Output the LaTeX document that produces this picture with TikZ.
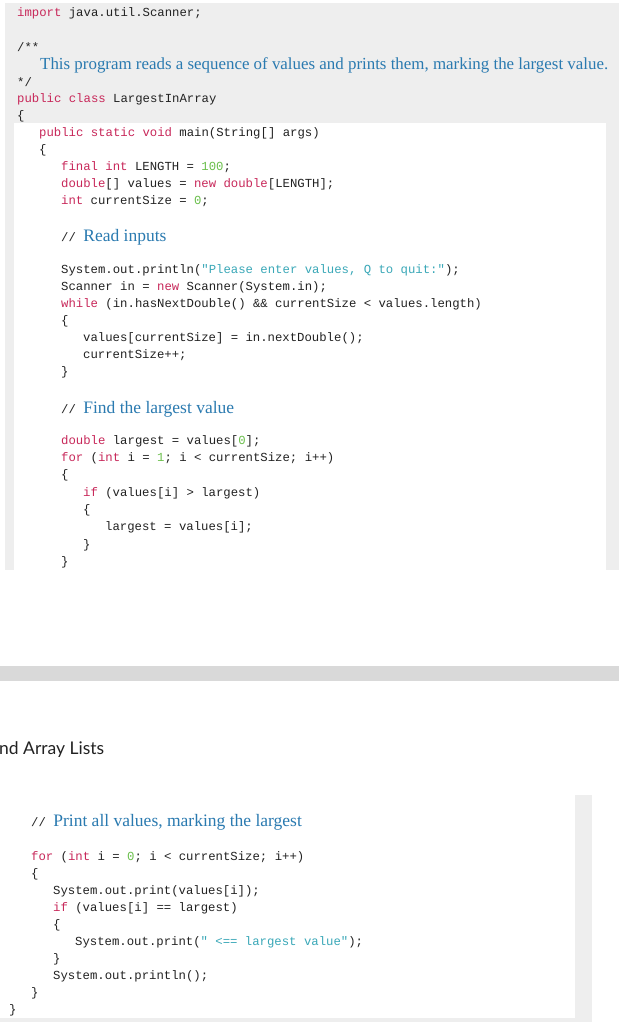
\documentclass[tikz,border=0pt]{standalone}
\usepackage{fontspec}
\setmainfont{Liberation Serif}
\setmonofont{Liberation Mono}
\newfontfamily\headfont{Lato}
\definecolor{kw}{HTML}{C8285A}
\definecolor{num}{HTML}{6ABF4B}
\definecolor{cmt}{HTML}{2A7AB0}
\definecolor{str}{HTML}{3AA8B8}
\definecolor{txt}{HTML}{222222}
\definecolor{bgg}{HTML}{EEEEEE}
\definecolor{band}{HTML}{D9D9D9}
\newcommand{\K}[1]{\textcolor{kw}{#1}}
\newcommand{\N}[1]{\textcolor{num}{#1}}
\newcommand{\St}[1]{\textcolor{str}{#1}}
\newcommand{\Cm}[1]{\textcolor{cmt}{\rmfamily\fontsize{17.5}{18}\selectfont #1}}
\tikzset{code/.style={anchor=west,inner sep=0pt,text=txt,font=\ttfamily\fontsize{12.3}{13}\selectfont}}
\newcommand{\Ln}[4]{\node[code] (#1) at (#2,#3) {#4};}
\begin{document}
\begin{tikzpicture}[x=1pt,y=-1pt]
\useasboundingbox (0,0) rectangle (619,1024);
\fill[white] (0,0) rectangle (619,1024);
\fill[bgg] (5,3) rectangle (619,570);
\fill[white] (14,123) rectangle (606,570);
\fill[band] (0,666) rectangle (619,681);
\fill[bgg] (575,795) rectangle (592,1022);
\fill[bgg] (0,1018) rectangle (592,1022);
\Ln{l1}{17}{13}{\K{import} java.util.Scanner;}
\Ln{l2}{17}{47}{/**}
\node[code,font=\rmfamily\fontsize{16.9}{18}\selectfont,text=cmt] (l3) at (40,65) {This program reads a sequence of values and prints them, marking the largest value.};
\Ln{l4}{17}{82}{*/}
\Ln{l5}{17}{99}{\K{public} \K{class} LargestInArray}
\Ln{l6}{17}{116}{\{}
\Ln{l7}{39}{133}{\K{public} \K{static} \K{void} main(String[] args)}
\Ln{l8}{39}{150}{\{}
\Ln{l9}{61}{167}{\K{final} \K{int} LENGTH = \N{100};}
\Ln{l10}{61}{184}{\K{double}[] values = \K{new} \K{double}[LENGTH];}
\Ln{l11}{61}{201}{\K{int} currentSize = \N{0};}
\Ln{l12}{61}{237}{// \Cm{Read inputs}}
\Ln{l13}{61}{270}{System.out.println(\St{"Please enter values, Q to quit:"});}
\Ln{l14}{61}{287}{Scanner in = \K{new} Scanner(System.in);}
\Ln{l15}{61}{304}{\K{while} (in.hasNextDouble() \&\& currentSize < values.length)}
\Ln{l16}{61}{321}{\{}
\Ln{l17}{83}{338}{values[currentSize] = in.nextDouble();}
\Ln{l18}{83}{355}{currentSize++;}
\Ln{l19}{61}{372}{\}}
\Ln{l20}{61}{409}{// \Cm{Find the largest value}}
\Ln{l21}{61}{441}{\K{double} largest = values[\N{0}];}
\Ln{l22}{61}{458}{\K{for} (\K{int} i = \N{1}; i < currentSize; i++)}
\Ln{l23}{61}{475}{\{}
\Ln{l24}{83}{493}{\K{if} (values[i] > largest)}
\Ln{l25}{83}{510}{\{}
\Ln{l26}{105}{527}{largest = values[i];}
\Ln{l27}{83}{545}{\}}
\Ln{l28}{61}{562}{\}}
\node[anchor=west,inner sep=0pt,text=txt,font=\headfont\fontsize{17.5}{18}\selectfont] (hd) at (-1,750) {nd Array Lists};
\Ln{b1}{31}{822}{// \Cm{Print all values, marking the largest}}
\Ln{b2}{31}{857}{\K{for} (\K{int} i = \N{0}; i < currentSize; i++)}
\Ln{b3}{31}{874}{\{}
\Ln{b4}{53}{891}{System.out.print(values[i]);}
\Ln{b5}{53}{908}{\K{if} (values[i] == largest)}
\Ln{b6}{53}{925}{\{}
\Ln{b7}{75}{942}{System.out.print(\St{" <== largest value"});}
\Ln{b8}{53}{959}{\}}
\Ln{b9}{53}{976}{System.out.println();}
\Ln{b10}{31}{993}{\}}
\Ln{b11}{9}{1010}{\}}
\end{tikzpicture}
\end{document}
